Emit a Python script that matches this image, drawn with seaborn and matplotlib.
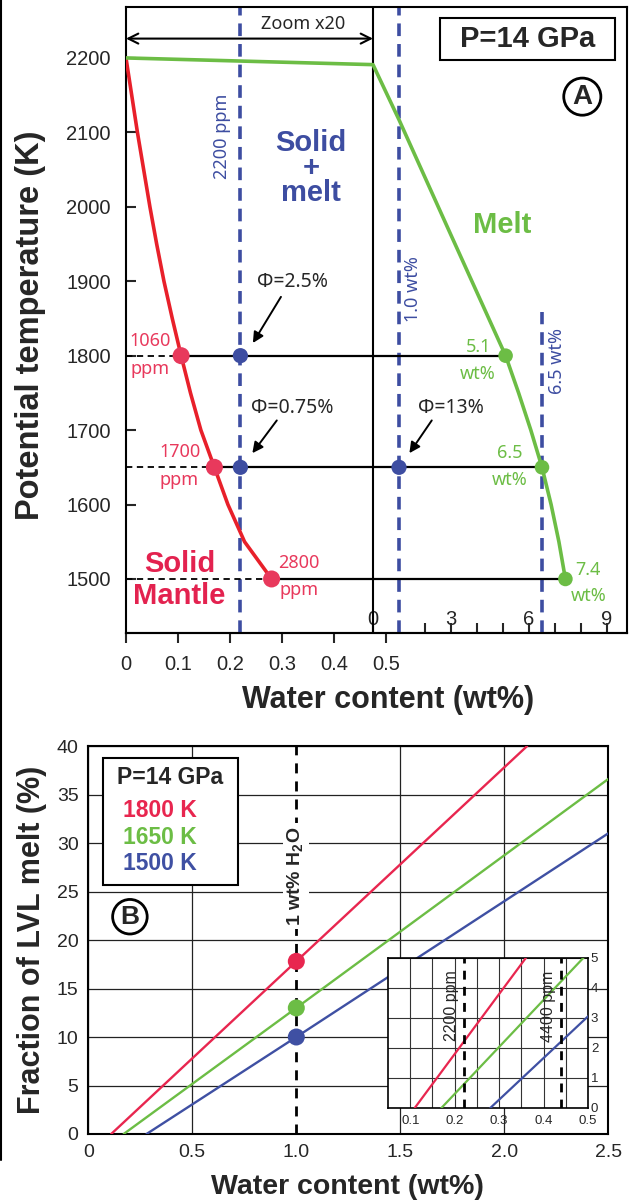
import matplotlib
matplotlib.use("Agg")
import matplotlib.pyplot as plt
import seaborn as sns
import pandas as pd
from matplotlib.lines import Line2D
from matplotlib.patches import Rectangle

sns.set_theme(style="white")
plt.rcParams['font.family'] = ['Liberation Sans', 'DejaVu Sans']
plt.rcParams['mathtext.fontset'] = 'custom'
plt.rcParams['mathtext.rm'] = 'Liberation Sans'
plt.rcParams['mathtext.bf'] = 'Liberation Sans:bold'

MYR = ['Noto Sans', 'DejaVu Sans']
RED = '#e8202a'
PINK = '#e8395c'
CRIMSON = '#e3224f'
GREEN = '#6cbd45'
BLUE = '#3d4da1'

# ---------------- panel A data ----------------
# solidus (wt% H2O, real scale)
solidus_water = [0.0, 0.011, 0.022, 0.034, 0.046, 0.059, 0.073, 0.089, 0.106,
                 0.124, 0.144, 0.17, 0.196, 0.228, 0.28]
solidus_temp = [2200, 2150, 2100, 2050, 2000, 1950, 1900, 1850, 1800,
                1750, 1700, 1650, 1600, 1550, 1500]
# liquidus (wt% H2O on the x20 zoomed-out scale)
liquidus_wt = [0.0, 1.0, 3.0, 5.1, 5.6, 6.07, 6.5, 6.85, 7.15, 7.4]
liquidus_temp = [2191, 2117, 1962, 1800, 1750, 1700, 1650, 1600, 1550, 1500]

iso_temp = [1800, 1650, 1500]
iso_solid = [0.106, 0.17, 0.28]
iso_solid_lbl = ['1060', '1700', '2800']
iso_liquid_wt = [5.1, 6.5, 7.4]

bulk_temp = [1800, 1650, 1650]
bulk_water = [0.22, 0.22, None]   # last one is 1.0 wt% on the zoomed scale
bulk_wt = [None, None, 1.0]
phi_lbl = ['Φ=2.5%', 'Φ=0.75%', 'Φ=13%']

sec_ticks = [0, 3, 6, 9]
xticks_a = [0, 0.1, 0.2, 0.3, 0.4, 0.5]
yticks_a = [1500, 1600, 1700, 1800, 1900, 2000, 2100, 2200]

# ---------------- panel B data ----------------
b_labels = ['1800 K', '1650 K', '1500 K']
water_1800 = [0.11, 1.0, 2.11]
melt_1800 = [0.0, 17.8, 40.0]
water_1650 = [0.17, 1.0, 2.5]
melt_1650 = [0.0, 13.0, 36.6]
water_1500 = [0.28, 1.0, 2.5]
melt_1500 = [0.0, 10.0, 31.0]
b_at_1wt = [17.8, 13.0, 10.0]
xticks_b = [0, 0.5, 1.0, 1.5, 2.0, 2.5]
yticks_b = [0, 5, 10, 15, 20, 25, 30, 35, 40]
inset_x = [0.1, 0.2, 0.3, 0.4, 0.5]
inset_minor = [0.15, 0.25, 0.35, 0.45]
inset_y = [0, 1, 2, 3, 4, 5]
inset_ppm = [0.22, 0.44]
inset_ppm_lbl = ['2200 ppm', '4400 ppm']

ZOOM0 = 0.475  # where 0 wt% of the x20 scale sits


def unzoom(w):
    return ZOOM0 + w / 20.0


fig = plt.figure(figsize=(6.29, 12), dpi=100)

# ================= panel A =================
axA = fig.add_axes([0.2003, 0.4725, 0.7973, 0.5217])
YLO, YHI = 1427.4, 2268.5
axA.set_xlim(0, 0.9644)
axA.set_ylim(YLO, YHI)

# blue composition lines
for x in [0.22, unzoom(1.0)]:
    axA.axvline(x, color=BLUE, lw=2.6, ls=(0, (3.5, 2.2)), zorder=1)
axA.axvline(unzoom(6.5), ymax=(1858 - YLO) / (YHI - YLO), color=BLUE, lw=2.6,
            ls=(0, (3.5, 2.2)), zorder=1)
axA.axvline(ZOOM0, color='black', lw=1.5, zorder=2)

# isotherms
for t, xs, wl in zip(iso_temp, iso_solid, iso_liquid_wt):
    axA.plot([0, xs], [t, t], color='black', lw=1.3, ls=(0, (3.5, 2.5)), zorder=2)
    axA.plot([xs, unzoom(wl)], [t, t], color='black', lw=1.6, zorder=2)

sns.lineplot(x=solidus_water, y=solidus_temp, sort=False, estimator=None,
             color=RED, lw=2.6, ax=axA, zorder=4)
liq_x = [0.0] + [unzoom(w) for w in liquidus_wt]
liq_t = [2200] + liquidus_temp
sns.lineplot(x=liq_x, y=liq_t, sort=False, estimator=None,
             color=GREEN, lw=2.6, ax=axA, zorder=4)

sns.scatterplot(x=iso_solid, y=iso_temp, color=PINK, s=150, edgecolor='none',
                ax=axA, zorder=5)
sns.scatterplot(x=[unzoom(w) for w in iso_liquid_wt], y=iso_temp, color=GREEN,
                s=110, edgecolor='none', ax=axA, zorder=5)
bx = [b if b is not None else unzoom(w) for b, w in zip(bulk_water, bulk_wt)]
sns.scatterplot(x=bx, y=bulk_temp, color=BLUE, s=120, edgecolor='none',
                ax=axA, zorder=5)

# labels at the points
sol_pos = [(0.047, 1820, 1782), (0.103, 1671, 1633), (0.333, 1522, 1485)]
for lbl, (x, t1, t2) in zip(iso_solid_lbl, sol_pos):
    axA.text(x, t1, lbl, color=PINK, fontsize=13, family=MYR, ha='center', va='center')
    axA.text(x, t2, 'ppm', color=PINK, fontsize=13, family=MYR, ha='center', va='center')
liq_pos = [(0.677, 1812, 1776), (0.738, 1669, 1633), (0.889, 1512, 1477)]
for w, (x, t1, t2) in zip(iso_liquid_wt, liq_pos):
    axA.text(x, t1, f'{w:.1f}', color=GREEN, fontsize=13, family=MYR, ha='center', va='center')
    axA.text(x, t2, 'wt%', color=GREEN, fontsize=13, family=MYR, ha='center', va='center')

phi_pos = [((0.32, 1899), (0.298, 1879), (0.244, 1817)),
           ((0.32, 1730), (0.29, 1713), (0.243, 1669)),
           ((0.625, 1730), (0.588, 1713), (0.545, 1669))]
for lbl, (tp, a0, a1) in zip(phi_lbl, phi_pos):
    axA.text(tp[0], tp[1], lbl, fontsize=14, family=MYR, ha='center', va='center')
    axA.annotate('', xy=a1, xytext=a0,
                 arrowprops=dict(arrowstyle='-|>', color='black', lw=1.4,
                                 mutation_scale=16, shrinkA=0, shrinkB=0), zorder=6)

axA.text(0.184, 2095, '2200 ppm', color=BLUE, fontsize=13, family=MYR,
         rotation=90, ha='center', va='center')
axA.text(0.552, 1889, '1.0 wt%', color=BLUE, fontsize=13, family=MYR,
         rotation=90, ha='center', va='center')
axA.text(0.828, 1793, '6.5 wt%', color=BLUE, fontsize=13, family=MYR,
         rotation=90, ha='center', va='center')

axA.text(0.356, 2052, 'Solid\n+\nmelt', color=BLUE, fontsize=21, fontweight='bold',
         ha='center', va='center', linespacing=0.85)
axA.text(0.724, 1975, 'Melt', color=GREEN, fontsize=21, fontweight='bold',
         ha='center', va='center')
axA.text(0.103, 1499, 'Solid\nMantle', color=CRIMSON, fontsize=21, fontweight='bold',
         ha='center', va='center', linespacing=1.2)
axA.add_patch(Rectangle((0.603, 2197), 0.337, 57, fc='white', ec='black', lw=1.5,
                        zorder=6))
axA.text(0.772, 2225.5, 'P=14 GPa', fontsize=21, fontweight='bold', ha='center',
         va='center', zorder=7)
axA.text(0.8775, 2148, 'A', fontsize=20, fontweight='bold', ha='center', va='center',
         bbox=dict(boxstyle='circle,pad=0.2', fc='white', ec='black', lw=2))

axA.annotate('', xy=(0, 2226), xytext=(ZOOM0, 2226),
             arrowprops=dict(arrowstyle='<->', color='black', lw=1.5,
                             mutation_scale=18, shrinkA=0, shrinkB=0))
axA.text(0.34, 2245, 'Zoom x20', fontsize=13, family=MYR, ha='center', va='center')

axA.set_xticks(xticks_a)
axA.set_xticklabels(['0', '0.1', '0.2', '0.3', '0.4', '0.5'])
axA.set_yticks(yticks_a)
axA.tick_params(axis='x', direction='out', length=7.2, width=1.5, pad=8.8,
                labelsize=14.5, bottom=True)
axA.tick_params(axis='y', direction='in', length=7.2, width=1.5, pad=11,
                labelsize=14.5, left=True)
for sp in axA.spines.values():
    sp.set_linewidth(1.5)
    sp.set_color('black')

sec = axA.secondary_xaxis(0.0, functions=(lambda x: (x - ZOOM0) * 20,
                                          lambda w: ZOOM0 + w / 20))
sec.set_alignment('top')
sec.set_xticks(sec_ticks)
sec.set_xticks(range(10), minor=True)
sec.tick_params(which='both', direction='out', length=7.2, width=1.5, pad=-4,
                labelsize=14.5)
sec.spines['top'].set_linewidth(1.5)

axA.set_xlabel('')
axA.set_ylabel('')
axA.text(0.522, -0.107, 'Water content (wt%)', transform=axA.transAxes,
         fontsize=22, fontweight='bold', ha='center', va='center')
axA.text(-0.191, 0.492, 'Potential temperature (K)', transform=axA.transAxes,
         fontsize=23.5, fontweight='bold', ha='center', va='center', rotation=90)

# ================= panel B =================
axB = fig.add_axes([0.1404, 0.055, 0.8267, 0.32333])
axB.set_xlim(0, 2.5)
axB.set_ylim(0, 40)
b_colors = {'1800 K': '#e8264f', '1650 K': GREEN, '1500 K': '#3f50a3'}

dfB = pd.concat([
    pd.DataFrame({'water': water_1800, 'melt': melt_1800, 'T': '1800 K'}),
    pd.DataFrame({'water': water_1650, 'melt': melt_1650, 'T': '1650 K'}),
    pd.DataFrame({'water': water_1500, 'melt': melt_1500, 'T': '1500 K'}),
], ignore_index=True)

axB.set_xticks(xticks_b)
axB.set_xticklabels(['0', '0.5', '1.0', '1.5', '2.0', '2.5'])
axB.set_yticks(yticks_b)
axB.grid(True, color='#222222', lw=0.9)
axB.get_xgridlines()[2].set_visible(False)
axB.set_axisbelow(True)

axB.axvline(1.0, color='black', lw=2.0, ls=(0, (3.6, 2.9)), zorder=2)
sns.lineplot(data=dfB, x='water', y='melt', hue='T', palette=b_colors,
             estimator=None, sort=False, lw=1.7, legend=False, ax=axB, zorder=3)
sns.scatterplot(x=[1.0, 1.0, 1.0], y=b_at_1wt, hue=b_labels, palette=b_colors,
                s=150, edgecolor='none', legend=False, ax=axB, zorder=4)

axB.text(1.0, 26.6, '1 wt% H$_\\mathbf{2}$O', fontsize=14, fontweight='bold',
         rotation=90, ha='center', va='center', zorder=5,
         bbox=dict(boxstyle='square,pad=0.15', fc='white', ec='none'))

axB.add_patch(Rectangle((0.029, 0.643), 0.259, 0.327, transform=axB.transAxes,
                        fc='white', ec='black', lw=1.5, zorder=5))
axB.text(0.157, 0.919, 'P=14 GPa', transform=axB.transAxes, fontsize=16.5,
         fontweight='bold', ha='center', va='center', zorder=6)
for lbl, yy in zip(b_labels, [0.833, 0.765, 0.696]):
    axB.text(0.138, yy, lbl, transform=axB.transAxes, fontsize=16.5,
             fontweight='bold', color=b_colors[lbl], ha='center', va='center', zorder=6)
axB.text(0.2, 22.4, 'B', fontsize=19, fontweight='bold', ha='center', va='center',
         zorder=6, bbox=dict(boxstyle='circle,pad=0.2', fc='white', ec='black', lw=2))

axB.tick_params(length=0, labelsize=14, pad=7)
for sp in axB.spines.values():
    sp.set_linewidth(1.5)
    sp.set_color('black')
axB.set_xlabel('')
axB.set_ylabel('')
axB.text(0.4975, -0.137, 'Water content (wt%)', transform=axB.transAxes,
         fontsize=20.5, fontweight='bold', ha='center', va='center')
axB.text(-0.109, 0.5, 'Fraction of LVL melt (%)', transform=axB.transAxes,
         fontsize=22, fontweight='bold', ha='center', va='center', rotation=90)

# ---------------- inset ----------------
axI = fig.add_axes([0.6169, 0.07667, 0.3180, 0.125])
axI.set_facecolor('white')
axI.set_xlim(0.05, 0.5)
axI.set_ylim(0, 5)
axI.set_xticks(inset_x)
axI.set_xticklabels(['0.1', '0.2', '0.3', '0.4', '0.5'])
axI.set_xticks(inset_minor, minor=True)
axI.set_yticks(inset_y)
axI.yaxis.tick_right()
axI.grid(True, which='both', color='#333333', lw=0.8)
axI.set_axisbelow(True)
sns.lineplot(data=dfB, x='water', y='melt', hue='T', palette=b_colors,
             estimator=None, sort=False, lw=1.6, legend=False, ax=axI, zorder=3)
for x, lbl in zip(inset_ppm, inset_ppm_lbl):
    axI.axvline(x, color='black', lw=2.0, ls=(0, (3.2, 2.6)), zorder=4)
    axI.text(x - 0.028, 3.4, lbl, fontsize=11.5, rotation=90, ha='center',
             va='center', zorder=5)
axI.tick_params(which='both', length=0, labelsize=9.5)
axI.tick_params(axis='x', pad=5)
axI.tick_params(axis='y', pad=2)
for sp in axI.spines.values():
    sp.set_linewidth(1.2)
    sp.set_color('black')
axI.set_xlabel('')
axI.set_ylabel('')

# thin border on the left edge of the original figure
fig.add_artist(Line2D([0.002, 0.002], [1.0, 1 - 1160 / 1200],
                      transform=fig.transFigure, color='black', lw=1.5))

fig.savefig('out.png', dpi=100, facecolor='white')
